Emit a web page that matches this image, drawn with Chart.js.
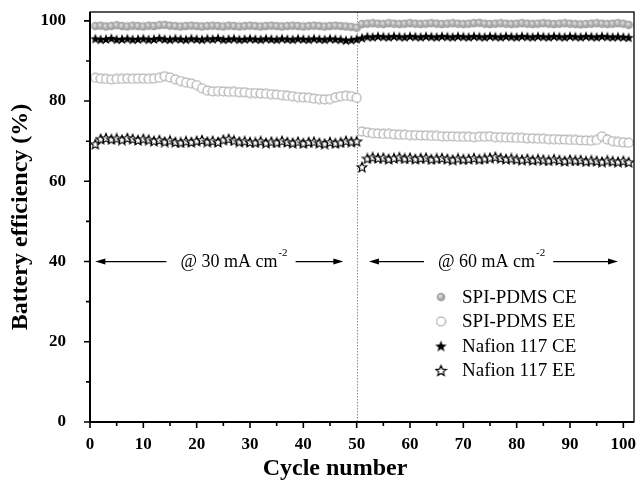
<!DOCTYPE html>
<html>
<head>
<meta charset="utf-8">
<script src="https://cdn.jsdelivr.net/npm/chart.js@4.4.1/dist/chart.umd.min.js"></script>
<style>
  html, body { margin: 0; padding: 0; background: #fff; }
  #wrap { width: 640px; height: 483px; }
</style>
</head>
<body>
<div id="wrap"><canvas id="c" width="640" height="483"></canvas></div>
<script>
// ---------- data ----------
const spiPdmsCE = [
  98.7, 98.8, 98.6, 98.7, 98.9, 98.7, 98.6, 98.8, 98.7, 98.6,
  98.8, 98.7, 98.9, 99.0, 98.8, 98.7, 98.6, 98.7, 98.8, 98.7,
  98.6, 98.7, 98.8, 98.7, 98.6, 98.8, 98.7, 98.6, 98.7, 98.8,
  98.7, 98.6, 98.7, 98.8, 98.7, 98.6, 98.7, 98.8, 98.7, 98.6,
  98.7, 98.8, 98.7, 98.6, 98.7, 98.8, 98.7, 98.6, 98.5, 98.3,
  99.2, 99.3, 99.4, 99.3, 99.2, 99.4, 99.3, 99.2, 99.3, 99.4,
  99.3, 99.2, 99.3, 99.4, 99.3, 99.2, 99.3, 99.4, 99.3, 99.2,
  99.3, 99.4, 99.5, 99.3, 99.2, 99.3, 99.4, 99.3, 99.2, 99.3,
  99.4, 99.3, 99.2, 99.3, 99.4, 99.3, 99.2, 99.3, 99.4, 99.3,
  99.2, 99.1, 99.2, 99.3, 99.4, 99.3, 99.2, 99.3, 99.4, 99.3,
  99.0
];
const spiPdmsEE = [
  85.8, 85.6, 85.5, 85.4, 85.5, 85.5, 85.6, 85.5, 85.6, 85.6,
  85.5, 85.6, 85.8, 86.2, 85.9, 85.4, 85.0, 84.6, 84.4, 84.0,
  83.2, 82.6, 82.4, 82.5, 82.4, 82.3, 82.3, 82.2, 82.2, 82.0,
  82.0, 81.9, 81.8, 81.7, 81.6, 81.5, 81.3, 81.2, 81.0, 80.9,
  80.8, 80.6, 80.5, 80.4, 80.5, 80.9, 81.2, 81.3, 81.2, 80.8,
  72.4, 72.2, 72.0, 71.9, 71.8, 71.8, 71.7, 71.6, 71.6, 71.5,
  71.5, 71.4, 71.4, 71.3, 71.3, 71.2, 71.2, 71.2, 71.1, 71.1,
  71.1, 71.0, 71.1, 71.1, 71.2, 71.0, 71.0, 70.9, 70.9, 70.8,
  70.8, 70.7, 70.7, 70.6, 70.6, 70.5, 70.5, 70.4, 70.4, 70.3,
  70.3, 70.2, 70.2, 70.1, 70.3, 71.2, 70.4, 70.0, 69.8, 69.7,
  69.6
];
const nafionCE = [
  95.6, 95.4, 95.5, 95.7, 95.4, 95.5, 95.6, 95.4, 95.5, 95.6,
  95.4, 95.5, 95.7, 95.5, 95.4, 95.6, 95.5, 95.4, 95.6, 95.5,
  95.4, 95.6, 95.5, 95.7, 95.4, 95.5, 95.6, 95.4, 95.5, 95.6,
  95.5, 95.4, 95.6, 95.5, 95.4, 95.6, 95.5, 95.4, 95.6, 95.5,
  95.4, 95.6, 95.5, 95.4, 95.6, 95.5, 95.4, 95.2, 95.3, 95.5,
  95.8, 96.1, 96.0, 96.2, 96.1, 96.0, 96.2, 96.1, 96.0, 96.2,
  96.1, 96.0, 96.2, 96.1, 96.0, 96.2, 96.1, 96.0, 96.2, 96.1,
  96.0, 96.2, 96.1, 96.0, 96.2, 96.1, 96.0, 96.2, 96.1, 96.0,
  96.2, 96.1, 96.0, 96.2, 96.1, 96.0, 96.2, 96.1, 96.0, 96.2,
  96.1, 96.0, 96.2, 96.1, 96.0, 96.2, 96.1, 96.0, 96.1, 96.0,
  95.9
];
const nafionEE = [
  69.3, 70.6, 70.8, 70.5, 70.7, 70.4, 70.8, 70.6, 70.3, 70.6,
  70.4, 70.1, 70.3, 69.9, 70.2, 69.8, 69.7, 70.0, 69.8, 70.1,
  70.3, 69.9, 70.1, 69.8, 70.4, 70.6, 70.2, 69.9, 70.0, 69.8,
  69.7, 70.0, 69.6, 69.9, 69.7, 70.1, 69.8, 69.6, 69.9, 69.5,
  69.8, 69.9, 69.6, 69.4, 69.8, 69.5, 69.7, 70.1, 69.9, 70.0,
  63.6, 65.7, 66.0, 65.8, 65.9, 65.6, 65.8, 66.0, 65.7, 65.9,
  65.6, 65.8, 65.9, 65.5, 65.7, 65.8, 65.6, 65.4, 65.7, 65.5,
  65.6, 65.8, 65.5, 65.7, 65.9, 66.1, 65.8, 65.6, 65.7, 65.5,
  65.4, 65.6, 65.3, 65.5, 65.4, 65.2, 65.5, 65.3, 65.1, 65.4,
  65.2, 65.3, 65.0, 65.2, 65.1, 64.9, 65.2, 65.0, 64.9, 65.1,
  64.8
];
const cycles = spiPdmsCE.map((_, i) => i + 1);
const seriesNames = ['SPI-PDMS CE', 'SPI-PDMS EE', 'Nafion 117 CE', 'Nafion 117 EE'];
const xTickLabels = [0, 10, 20, 30, 40, 50, 60, 70, 80, 90, 100];
const yTickLabels = [0, 20, 40, 60, 80, 100];
const rateChangeCycle = 50;
const rateLabels = [
  { text: '@ 30 mA cm', sup: '-2', from: 1, to: 47.5, at: 27.0, y: 40 },
  { text: '@ 60 mA cm', sup: '-2', from: 52.3, to: 99.0, at: 75.3, y: 40 }
];

// ---------- marker images ----------
function makeCanvas(size, draw) {
  const c = document.createElement('canvas');
  c.width = size; c.height = size;
  const g = c.getContext('2d');
  draw(g, size / 2);
  return c;
}
function starPath(g, cx, cy, R, r) {
  g.beginPath();
  for (let i = 0; i < 10; i++) {
    const rad = i % 2 === 0 ? R : r;
    const a = -Math.PI / 2 + i * Math.PI / 5;
    const px = cx + rad * Math.cos(a), py = cy + rad * Math.sin(a);
    if (i === 0) g.moveTo(px, py); else g.lineTo(px, py);
  }
  g.closePath();
}
const sphere = (size) => makeCanvas(size, (g, c) => {
  const grd = g.createRadialGradient(c - 1, c - 1, 0.5, c, c, c - 0.5);
  grd.addColorStop(0, '#dedede');
  grd.addColorStop(0.5, '#adadad');
  grd.addColorStop(1, '#9a9a9a');
  g.beginPath(); g.arc(c, c, c - 0.7, 0, Math.PI * 2);
  g.fillStyle = grd; g.fill();
});
const ring = (size) => makeCanvas(size, (g, c) => {
  g.beginPath(); g.arc(c, c, c - 1, 0, Math.PI * 2);
  g.fillStyle = '#fff'; g.fill();
  g.lineWidth = 1.1; g.strokeStyle = '#a2a2a2'; g.stroke();
});
const solidStar = (size) => makeCanvas(size, (g, c) => {
  starPath(g, c, c + 0.6, c - 0.5, (c - 0.5) * 0.42);
  g.fillStyle = '#000'; g.fill();
});
const hollowStar = (size) => makeCanvas(size, (g, c) => {
  starPath(g, c, c + 0.6, c - 1, (c - 1) * 0.45);
  g.fillStyle = '#fff'; g.fill();
  g.lineWidth = 1.2; g.strokeStyle = '#000'; g.stroke();
});
const pointImgs = [sphere(10), ring(11), solidStar(12), hollowStar(12)];
const legendImgs = [sphere(10), ring(11), solidStar(13), hollowStar(13)];

const SERIF = '"Liberation Serif", "Times New Roman", serif';

function mk(i, values) {
  return {
    label: seriesNames[i],
    data: values.map((v, k) => ({ x: cycles[k], y: v })),
    pointStyle: pointImgs[i],
    pointRadius: 5,
    pointHoverRadius: 5,
    showLine: false,
    order: 4 - i
  };
}

// ---------- plugins ----------
const framePlugin = {
  id: 'frame',
  beforeDatasetsDraw(chart) {
    const { ctx, chartArea: a, scales: { x } } = chart;
    const px = Math.round(x.getPixelForValue(rateChangeCycle)) + 0.5;
    ctx.save();
    ctx.strokeStyle = '#8c8c8c';
    ctx.lineWidth = 1;
    ctx.setLineDash([1.5, 1.5]);
    ctx.beginPath(); ctx.moveTo(px, a.top); ctx.lineTo(px, a.bottom); ctx.stroke();
    ctx.restore();
  },
  afterDraw(chart) {
    const { ctx, chartArea: a, scales: { x, y } } = chart;
    ctx.save();
    ctx.strokeStyle = '#000';
    ctx.lineWidth = 1.3;
    ctx.strokeRect(a.left, a.top, a.right - a.left, a.bottom - a.top);
    ctx.lineWidth = 2;
    ctx.beginPath();
    ctx.moveTo(a.left, a.top); ctx.lineTo(a.left, a.bottom); ctx.lineTo(a.right, a.bottom);
    ctx.stroke();
    ctx.lineWidth = 1.6;
    ctx.beginPath();
    for (let v = 0; v <= 100; v += 5) {
      const p = x.getPixelForValue(v);
      const len = v % 10 === 0 ? 6 : 4;
      ctx.moveTo(p, a.bottom); ctx.lineTo(p, a.bottom + len);
    }
    for (let v = 0; v <= 100; v += 10) {
      const p = y.getPixelForValue(v);
      const len = v % 20 === 0 ? 6 : 4;
      ctx.moveTo(a.left, p); ctx.lineTo(a.left - len, p);
    }
    ctx.stroke();

    // rate annotations
    ctx.fillStyle = '#000';
    ctx.lineWidth = 1.3;
    rateLabels.forEach(r => {
      const py = y.getPixelForValue(r.y);
      ctx.font = '18px ' + SERIF;
      const w = ctx.measureText(r.text).width;
      ctx.font = '11px ' + SERIF;
      const ws = ctx.measureText(r.sup).width;
      const total = w + 1 + ws;
      const cx = x.getPixelForValue(r.at);
      const left = cx - total / 2, right = cx + total / 2;
      ctx.textBaseline = 'middle';
      ctx.textAlign = 'left';
      ctx.font = '18px ' + SERIF;
      ctx.fillText(r.text, left, py + 1);
      ctx.font = '11px ' + SERIF;
      ctx.fillText(r.sup, left + w + 1, py - 8);
      const x0 = x.getPixelForValue(r.from), x1 = x.getPixelForValue(r.to);
      const l1 = left - 14, r1 = right + 8;
      ctx.beginPath();
      ctx.moveTo(x0 + 6, py); ctx.lineTo(l1, py);
      ctx.moveTo(r1, py); ctx.lineTo(x1 - 6, py);
      ctx.stroke();
      ctx.beginPath();
      ctx.moveTo(x0, py); ctx.lineTo(x0 + 10, py - 3); ctx.lineTo(x0 + 10, py + 3); ctx.closePath();
      ctx.moveTo(x1, py); ctx.lineTo(x1 - 10, py - 3); ctx.lineTo(x1 - 10, py + 3); ctx.closePath();
      ctx.fill();
    });

    // legend
    const lx = a.left + 351, ly0 = a.top + 285, dy = 24.5;
    ctx.font = '19px ' + SERIF;
    ctx.textBaseline = 'middle';
    ctx.textAlign = 'left';
    chart.data.datasets.forEach((ds, i) => {
      const yy = ly0 + i * dy;
      const img = legendImgs[i];
      ctx.drawImage(img, lx - img.width / 2, yy - img.height / 2);
      ctx.fillText(ds.label, lx + 21, yy + 1);
    });
    ctx.restore();
  }
};

new Chart(document.getElementById('c'), {
  type: 'scatter',
  data: {
    datasets: [
      mk(0, spiPdmsCE),
      mk(1, spiPdmsEE),
      mk(2, nafionCE),
      mk(3, nafionEE)
    ]
  },
  options: {
    responsive: false,
    animation: false,
    events: [],
    layout: { padding: { top: 12, right: 2, left: 0, bottom: 0 } },
    plugins: { legend: { display: false }, tooltip: { enabled: false } },
    scales: {
      x: {
        type: 'linear', min: 0, max: 102,
        grid: { display: false, drawTicks: false },
        border: { display: false },
        afterBuildTicks: s => { s.ticks = xTickLabels.map(v => ({ value: v })); },
        afterFit: s => { s.height = 61; s.paddingLeft = 0; s.paddingRight = 0; },
        ticks: {
          autoSkip: false, maxRotation: 0, padding: 12, color: '#000',
          font: { family: SERIF, size: 17, weight: 'bold' }
        },
        title: {
          display: true, text: 'Cycle number         ', color: '#000',
          font: { family: SERIF, size: 24, weight: 'bold' },
          padding: { top: 0, bottom: 0 }
        }
      },
      y: {
        type: 'linear', min: 0, max: 102.2,
        grid: { display: false, drawTicks: false },
        border: { display: false },
        afterBuildTicks: s => { s.ticks = yTickLabels.map(v => ({ value: v })); },
        afterFit: s => { s.width = 90; s.paddingTop = 0; s.paddingBottom = 0; },
        ticks: {
          autoSkip: false, padding: 24, color: '#000',
          font: { family: SERIF, size: 17, weight: 'bold' }
        },
        title: {
          display: true, text: 'Battery efficiency (%)', color: '#000',
          font: { family: SERIF, size: 24, weight: 'bold' },
          padding: { top: 6, bottom: 0 }
        }
      }
    }
  },
  plugins: [framePlugin]
});
</script>
</body>
</html>
